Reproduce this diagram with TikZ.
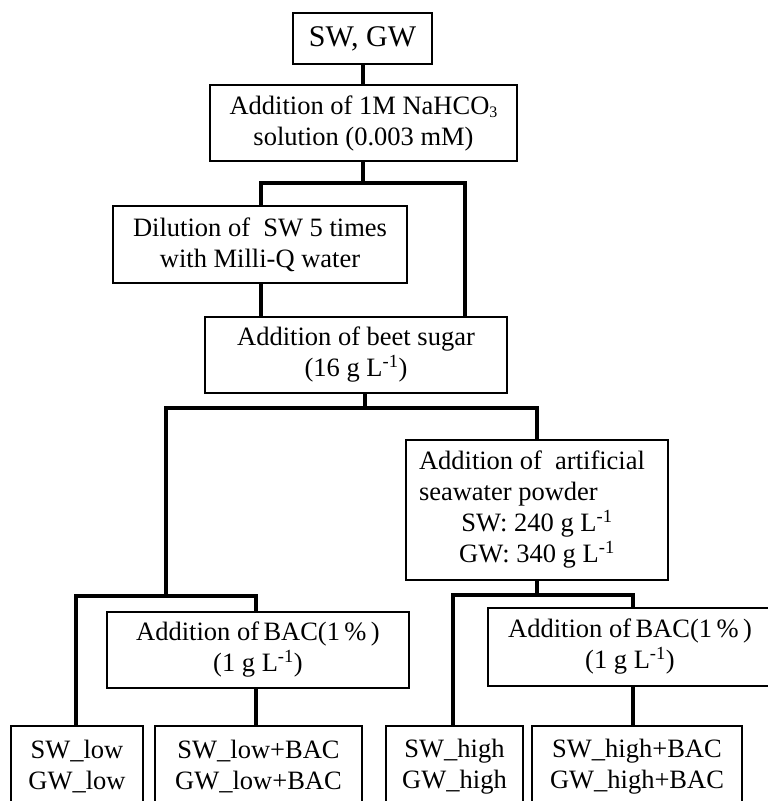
\documentclass[tikz,border=0pt]{standalone}
\usepackage{fontspec}
\setmainfont{Liberation Serif}
\newcommand{\subthree}{\raisebox{-0.3ex}{\fontsize{16}{16}\selectfont 3}}
\begin{document}
\begin{tikzpicture}[x=1pt,y=-1pt,
  box/.style={draw, line width=1.3pt, align=center, inner sep=0pt,
    font=\fontsize{26.5}{31}\selectfont,
    execute at begin node={\spaceskip=0pt\xspaceskip=0pt\frenchspacing}},
  conn/.style={line width=3.5pt}]
\useasboundingbox (0,0) rectangle (768,801);
\clip (0,0) rectangle (768,801);
% boxes
\node[box, minimum width=139, minimum height=51, font=\fontsize{30}{35}\selectfont] (sg) at (362.5,38.5) {SW, GW};
\node[box, minimum width=307, minimum height=76] (na) at (363.5,123) {Addition of 1M NaHCO\subthree\\solution (0.003 mM)};
\node[box, minimum width=294, minimum height=77] (dil) at (260,244.5) {Dilution of\ \ SW 5 times\\with Milli-Q water};
\node[box, minimum width=302, minimum height=76] (beet) at (356,355) {Addition of beet sugar\\(16 g L\textsuperscript{-1})};
\node[box, minimum width=262, minimum height=140, text width=236, align=left] (art) at (537,510)
  {\makebox[236pt][l]{Addition of\ \ artificial}\\
   \makebox[236pt][l]{seawater powder}\\
   \makebox[236pt][c]{SW: 240 g L\textsuperscript{-1}}\\
   \makebox[236pt][c]{GW: 340 g L\textsuperscript{-1}}};
\node[box, minimum width=302, minimum height=76] (bacL) at (258,650) {Addition of\,BAC(1\,\%\,)\\(1 g L\textsuperscript{-1})};
\node[box, minimum width=284, minimum height=78] (bacR) at (630,647) {Addition of\,BAC(1\,\%\,)\\(1 g L\textsuperscript{-1})};
\node[box, minimum width=132, minimum height=82] (swl) at (77,767) {SW\_low\\GW\_low};
\node[box, minimum width=207, minimum height=82] (swlb) at (258.5,767) {SW\_low+BAC\\GW\_low+BAC};
\node[box, minimum width=137, minimum height=82] (swh) at (454.5,767) {SW\_high\\GW\_high};
\node[box, minimum width=210, minimum height=82] (swhb) at (637,767) {SW\_high+BAC\\GW\_high+BAC};
% junction coordinates
\coordinate (j1) at (363,183);
\coordinate (jL1) at (261,183);
\coordinate (jR1) at (465,183);
\coordinate (j2) at (365,408);
\coordinate (j3) at (166,596);
\coordinate (jR2) at (537,408);
\coordinate (jL3) at (76,596);
\coordinate (jR3) at (256,596);
\coordinate (j4) at (537,595);
\coordinate (jL4) at (453,595);
\coordinate (jR4) at (633,595);
% connectors
\draw[conn] (sg.south -| j1) -- (na.north -| j1);
\draw[conn] (na.south -| j1) -- (j1);
\draw[conn] (dil.north -| jL1) |- (jR1) -- (beet.north -| jR1);
\draw[conn] (dil.south -| jL1) -- (beet.north -| jL1);
\draw[conn] (beet.south -| j2) -- (j2);
\draw[conn] (j3) |- (jR2) -- (art.north -| jR2);
\draw[conn] (swl.north -| jL3) |- (jR3) -- (bacL.north -| jR3);
\draw[conn] (bacL.south -| jR3) -- (swlb.north -| jR3);
\draw[conn] (art.south -| j4) -- (j4);
\draw[conn] (swh.north -| jL4) |- (jR4) -- (bacR.north -| jR4);
\draw[conn] (bacR.south -| jR4) -- (swhb.north -| jR4);
\end{tikzpicture}
\end{document}
